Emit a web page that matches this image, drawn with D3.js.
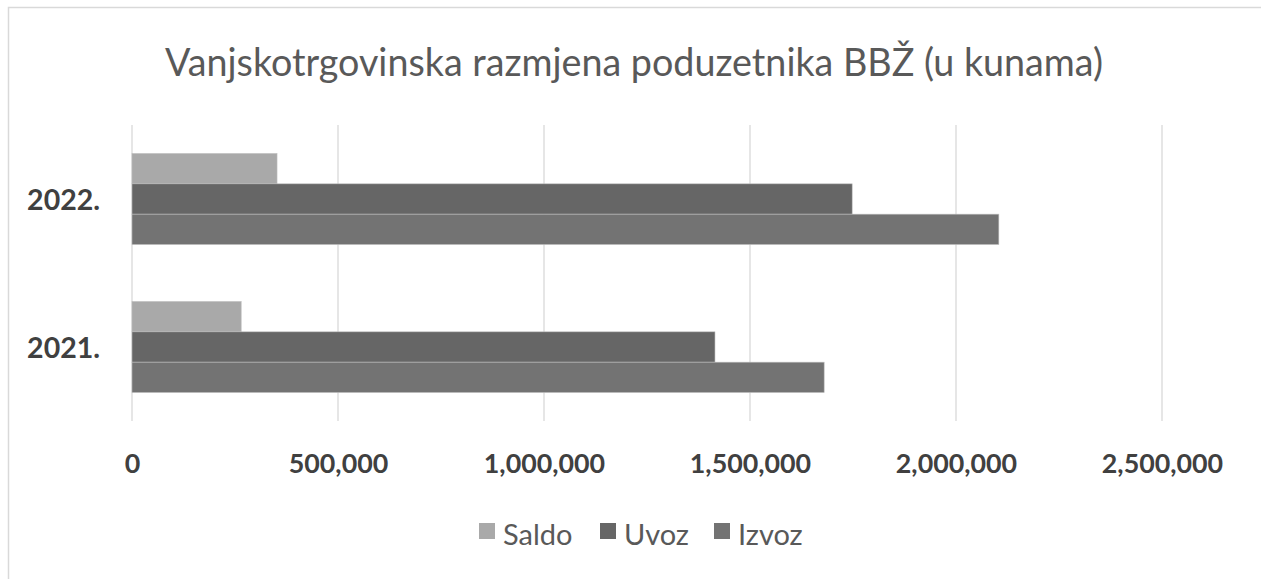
<!DOCTYPE html>
<html><head><meta charset="utf-8">
<script src="https://cdn.jsdelivr.net/npm/d3@7"></script>
<style>html,body{margin:0;padding:0;background:#fff;}svg{display:block;}</style>
</head><body>
<svg id="c" width="1261" height="579"></svg>
<script>
const categories = ["2022.", "2021."];
const seriesNames = ["Saldo", "Uvoz", "Izvoz"];
const saldo = [352000, 265000];
const uvoz = [1748000, 1415000];
const izvoz = [2104000, 1680000];
const tickValues = [0, 500000, 1000000, 1500000, 2000000, 2500000];
const colors = ["#a9a9a9", "#666666", "#737373"];

const data = categories.map((c, i) => ({cat: c, vals: [saldo[i], uvoz[i], izvoz[i]]}));
const font = "Lato, 'Open Sans', sans-serif";
const svg = d3.select("#c");
svg.append("rect").attr("x", 8.5).attr("y", 7.5).attr("width", 1262).attr("height", 580)
  .attr("fill", "#fff").attr("stroke", "#d9d9d9").attr("stroke-width", 1.5);

const L = 132, R = 1162, T = 125, B = 421;
const x = d3.scaleLinear().domain([0, 2500000]).range([L, R]);
const y = d3.scaleBand().domain(categories).range([T, B]).paddingInner(0.385).paddingOuter(0.1925);
const ys = d3.scaleBand().domain(seriesNames).range([0, y.bandwidth()]);

// gridlines
svg.append("g").selectAll("line").data(tickValues).join("line")
  .attr("x1", d => x(d)).attr("x2", d => x(d)).attr("y1", T).attr("y2", B)
  .attr("stroke", "#d9d9d9").attr("stroke-width", 1.3);

// bars
const g = svg.append("g").selectAll("g").data(data).join("g")
  .attr("transform", d => `translate(0,${y(d.cat)})`);
g.selectAll("rect").data(d => d.vals.map((v, k) => ({v, k}))).join("rect")
  .attr("x", x(0)).attr("y", d => ys(seriesNames[d.k]))
  .attr("width", d => x(d.v) - x(0)).attr("height", ys.bandwidth())
  .attr("fill", d => colors[d.k]).attr("stroke", "#bdbdbd").attr("stroke-width", 0.6);

// x axis labels
const xa = d3.axisBottom(x).tickValues(tickValues).tickFormat(d3.format(",")).tickSize(0).tickPadding(0);
const xg = svg.append("g").attr("transform", `translate(0,${473})`).call(xa);
xg.select(".domain").remove();
xg.selectAll("text").attr("font-family", font).attr("font-size", 26.8).attr("font-weight", "bold")
  .attr("fill", "#404040").attr("dy", 0).attr("y", 0);

// y axis labels
const ya = d3.axisLeft(y).tickSize(0).tickPadding(0);
const yg = svg.append("g").attr("transform", `translate(${100},0)`).call(ya);
yg.select(".domain").remove();
yg.selectAll("text").attr("font-family", font).attr("font-size", 28.5).attr("font-weight", "bold")
  .attr("fill", "#404040").attr("dy", "0.4em");

// title
svg.append("text").attr("x", 634).attr("y", 76).attr("text-anchor", "middle")
  .attr("font-family", font).attr("font-size", 37.7).attr("fill", "#595959")
  .text("Vanjskotrgovinska razmjena poduzetnika BBŽ (u kunama)");

// legend
const legX = [479, 600, 714];
const lg = svg.append("g").selectAll("g").data(seriesNames).join("g")
  .attr("transform", (d, i) => `translate(${legX[i]},${523})`);
lg.append("rect").attr("width", 16).attr("height", 16).attr("fill", (d, i) => colors[i]);
lg.append("text").attr("x", 24).attr("y", 22).attr("font-family", font).attr("font-size", 29)
  .attr("fill", "#595959").text(d => d);
</script>
</body></html>
